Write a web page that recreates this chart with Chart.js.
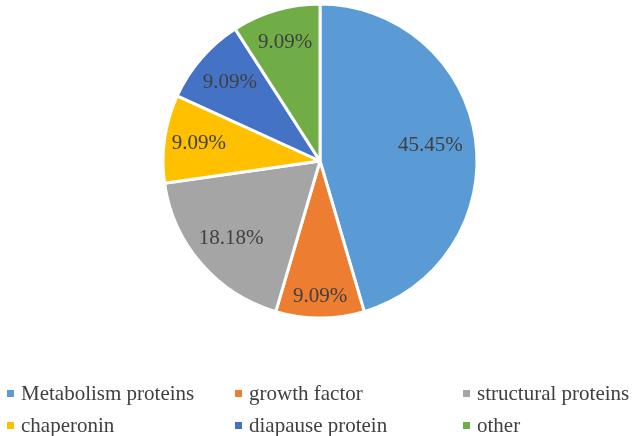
<!DOCTYPE html>
<html>
<head>
<meta charset="utf-8">
<script src="https://cdn.jsdelivr.net/npm/chart.js@4.4.1/dist/chart.umd.min.js"></script>
<style>
  html, body { margin: 0; padding: 0; background: #fff; }
  #wrap { position: relative; width: 632px; height: 436px; }
  #c { position: absolute; left: 0; top: 0; }
  .lg { position: absolute; font-family: "Liberation Serif", serif; font-size: 21px; color: #404040; white-space: nowrap; line-height: 24px; }
  .lg .box { position: absolute; width: 7px; height: 7px; top: 9px; }
  .lg .txt { position: absolute; top: 0; }
</style>
</head>
<body>
<div id="wrap">
  <canvas id="c" width="632" height="436"></canvas>
</div>
<script>
const categories = ["Metabolism proteins", "growth factor", "structural proteins", "chaperonin", "diapause protein", "other"];
const values = [45.45, 9.09, 18.18, 9.09, 9.09, 9.09];
const valueLabels = ["45.45%", "9.09%", "18.18%", "9.09%", "9.09%", "9.09%"];
const colors = ["#5B9BD5", "#ED7D31", "#A5A5A5", "#FFC000", "#4472C4", "#70AD47"];

const labelRadiusFactors = [0.71, 0.86, 0.75, 0.78, 0.76, 0.79];

const sliceLabels = {
  id: 'sliceLabels',
  afterDatasetsDraw(chart) {
    const ctx = chart.ctx;
    const meta = chart.getDatasetMeta(0);
    ctx.save();
    ctx.font = '21px "Liberation Serif", serif';
    ctx.fillStyle = '#404040';
    ctx.textAlign = 'center';
    ctx.textBaseline = 'middle';
    meta.data.forEach((arc, i) => {
      const p = arc.getProps(['x', 'y', 'startAngle', 'endAngle', 'outerRadius'], true);
      const mid = (p.startAngle + p.endAngle) / 2;
      const r = p.outerRadius * labelRadiusFactors[i];
      ctx.fillText(valueLabels[i], p.x + Math.cos(mid) * r, p.y + Math.sin(mid) * r);
    });
    ctx.restore();
  }
};

const chart = new Chart(document.getElementById('c'), {
  type: 'pie',
  data: {
    labels: categories,
    datasets: [{
      data: values,
      backgroundColor: colors,
      borderColor: '#ffffff',
      borderWidth: 3
    }]
  },
  options: {
    responsive: false,
    animation: false,
    layout: { padding: { top: 2.5, bottom: 116.5, left: 8, right: 0 } },
    plugins: {
      legend: { display: false },
      tooltip: { enabled: false }
    }
  },
  plugins: [sliceLabels]
});

// HTML legend laid out in a 3-column grid, built from the same arrays
const colX = [7, 235, 463];
const rowY = [381, 413];
const wrap = document.getElementById('wrap');
categories.forEach((name, i) => {
  const col = i % 3, row = Math.floor(i / 3);
  const item = document.createElement('div');
  item.className = 'lg';
  item.style.left = colX[col] + 'px';
  item.style.top = rowY[row] + 'px';
  const box = document.createElement('span');
  box.className = 'box';
  box.style.left = '0px';
  box.style.background = colors[i];
  const txt = document.createElement('span');
  txt.className = 'txt';
  txt.style.left = '14px';
  txt.textContent = name;
  item.appendChild(box);
  item.appendChild(txt);
  wrap.appendChild(item);
});
</script>
</body>
</html>
